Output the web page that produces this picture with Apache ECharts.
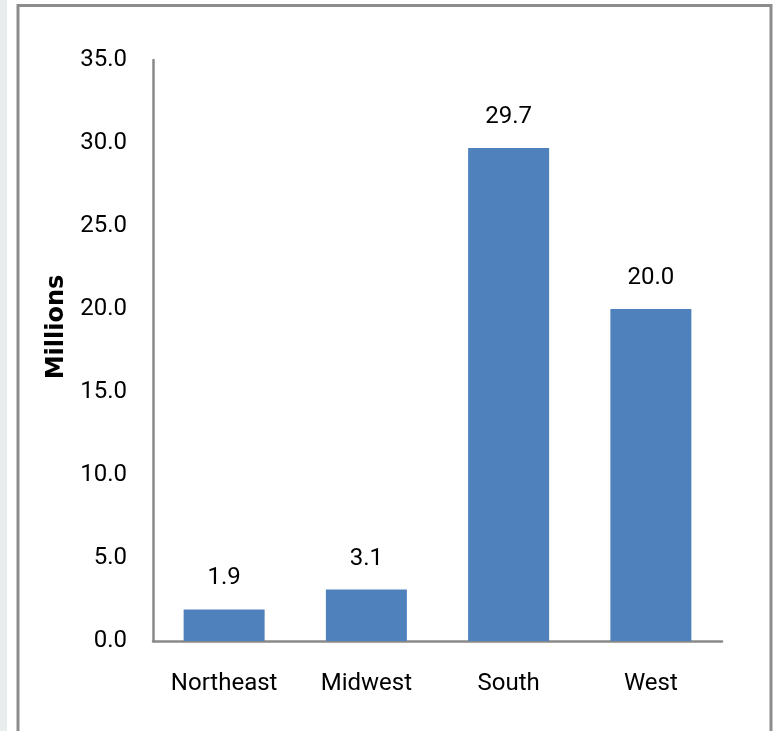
<!DOCTYPE html>
<html>
<head>
<meta charset="utf-8">
<script src="https://cdn.jsdelivr.net/npm/echarts@6/dist/echarts.min.js"></script>
<style>
html,body{margin:0;padding:0;background:#fff;}
#chart{width:775px;height:731px;}
</style>
</head>
<body>
<div id="chart"></div>
<script>
var categories = ['Northeast', 'Midwest', 'South', 'West'];
var values = [1.9, 3.1, 29.7, 20.0];
var yTicks = [0, 5, 10, 15, 20, 25, 30, 35];
var yAxisTitle = 'Millions';

var chart = echarts.init(document.getElementById('chart'));
var font = 'Roboto, "Liberation Sans", sans-serif';
chart.setOption({
  animation: false,
  backgroundColor: '#ffffff',
  graphic: [
    { type: 'rect', left: 0, top: 0, shape: { width: 7, height: 731 }, style: { fill: '#e9eded' }, z: -10 },
    { type: 'rect', shape: { x: 18, y: 5.5, width: 753, height: 740 }, style: { fill: 'none', stroke: '#8c8c8c', lineWidth: 3 }, z: -5 },
    { type: 'text', x: 57, y: 327, rotation: Math.PI / 2,
      style: { text: yAxisTitle, font: 'bold 24px "DejaVu Sans", sans-serif', fill: '#000', align: 'center', verticalAlign: 'middle' } }
  ],
  grid: { left: 153, top: 60, right: 53, bottom: 90 },
  xAxis: {
    type: 'category',
    data: categories,
    axisTick: { show: false },
    axisLine: { lineStyle: { color: '#898989', width: 2.5 } },
    axisLabel: { color: '#000', fontFamily: font, fontSize: 24, margin: 31, interval: 0, hideOverlap: false }
  },
  yAxis: {
    type: 'value',
    min: yTicks[0],
    max: yTicks[yTicks.length - 1],
    interval: yTicks[1] - yTicks[0],
    splitLine: { show: false },
    axisTick: { show: false },
    axisLine: { show: true, lineStyle: { color: '#898989', width: 2.5 } },
    axisLabel: { color: '#000', fontFamily: font, fontSize: 24, margin: 26,
      formatter: function (v) { return v.toFixed(1); } }
  },
  series: [{
    type: 'bar',
    data: values,
    barWidth: 81,
    itemStyle: { color: '#4f81bd' },
    label: { show: true, position: 'top', distance: 19, color: '#000', fontFamily: font, fontSize: 24,
      formatter: function (p) { return p.value.toFixed(1); } }
  }]
});
</script>
</body>
</html>
